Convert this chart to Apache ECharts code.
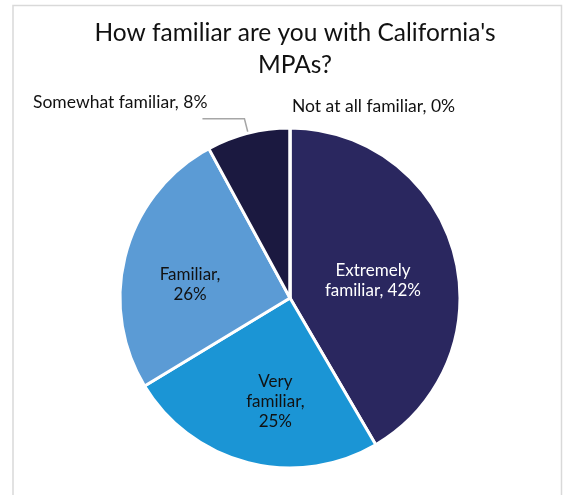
<!DOCTYPE html>
<html>
<head>
<meta charset="utf-8">
<style>
  html, body { margin: 0; padding: 0; background: #ffffff; }
  #chart { width: 563px; height: 495px; }
</style>
<script src="https://cdn.jsdelivr.net/npm/echarts@6/dist/echarts.min.js"></script>
</head>
<body>
<div id="chart"></div>
<script>
// Survey answers, clockwise from 12 o'clock
const categories = ['Extremely familiar', 'Very familiar', 'Familiar', 'Somewhat familiar', 'Not at all familiar'];
const shares = [42, 25, 26, 8, 0];
// How each slice label wraps
const labelText = [
  'Extremely\nfamiliar, 42%',
  'Very\nfamiliar,\n25%',
  'Familiar,\n26%',
  'Somewhat familiar, 8%',
  'Not at all familiar, 0%'
];
const sliceColors = ['#2a275f', '#1b95d5', '#5b9bd5', '#1b1940', '#8fb4e3'];
const chartTitle = "How familiar are you with California's\nMPAs?";

const FONT = 'Lato, "Liberation Sans", sans-serif';
const TEXT_DARK = '#111111';

const insideLabel = (color) => ({
  show: true,
  position: 'inside',
  color: color,
  fontFamily: FONT,
  fontSize: 17,
  lineHeight: 20,
  align: 'center'
});

const data = categories.map((name, i) => {
  const item = { name: name, value: shares[i], itemStyle: { color: sliceColors[i] } };
  if (i === 0) item.label = insideLabel('#ffffff');
  if (i === 1 || i === 2) item.label = insideLabel(TEXT_DARK);
  if (i === 3) {
    // label text sits above the end of its leader line (an empty spacer line below it)
    item.label = {
      show: true, position: 'outside', fontFamily: FONT,
      formatter: (p) => '{t|' + labelText[p.dataIndex] + '}\n{s| }',
      rich: {
        t: { color: TEXT_DARK, fontFamily: FONT, fontSize: 17.5, lineHeight: 20 },
        s: { fontSize: 10, lineHeight: 33 }
      },
      distanceToLabelLine: -5
    };
    item.labelLine = { show: true, length: 15, length2: 42, lineStyle: { color: '#a6a6a6', width: 1.5 } };
  }
  if (i === 4) {
    item.label = { show: false };
    item.labelLine = { show: false };
  }
  return item;
});

// Nudge the inside labels towards where they read best in each slice
const insideShift = { 0: [-2, 6], 1: [7, 18], 2: [-15, 10] };

const chart = echarts.init(document.getElementById('chart'), null, { renderer: 'canvas' });
chart.setOption({
  backgroundColor: '#ffffff',
  animation: false,
  title: {
    text: chartTitle,
    left: 290,
    top: 12,
    textAlign: 'center',
    textStyle: { fontFamily: FONT, fontSize: 24.5, fontWeight: 'normal', color: TEXT_DARK, lineHeight: 32 }
  },
  graphic: [{
    type: 'rect',
    shape: { x: 13, y: 5.5, width: 548.5, height: 520 },
    style: { fill: 'none', stroke: '#d9d9d9', lineWidth: 1.5 },
    silent: true
  }, {
    // zero-size slice: its label is placed just above the top of the pie
    type: 'text',
    left: 292,
    top: 97,
    style: {
      text: categories[4] + ', ' + shares[4] + '%',
      fill: TEXT_DARK,
      font: '17.5px ' + FONT
    },
    silent: true
  }],
  series: [{
    type: 'pie',
    center: [290, 298],
    radius: 170,
    startAngle: 90,
    clockwise: true,
    avoidLabelOverlap: false,
    minShowLabelAngle: 0,
    itemStyle: { borderColor: '#ffffff', borderWidth: 3 },
    label: {
      formatter: (p) => labelText[p.dataIndex]
    },
    labelLayout: (p) => {
      const s = insideShift[p.dataIndex];
      return s ? { dx: s[0], dy: s[1] } : {};
    },
    emphasis: { disabled: true },
    data: data
  }]
});
</script>
</body>
</html>
